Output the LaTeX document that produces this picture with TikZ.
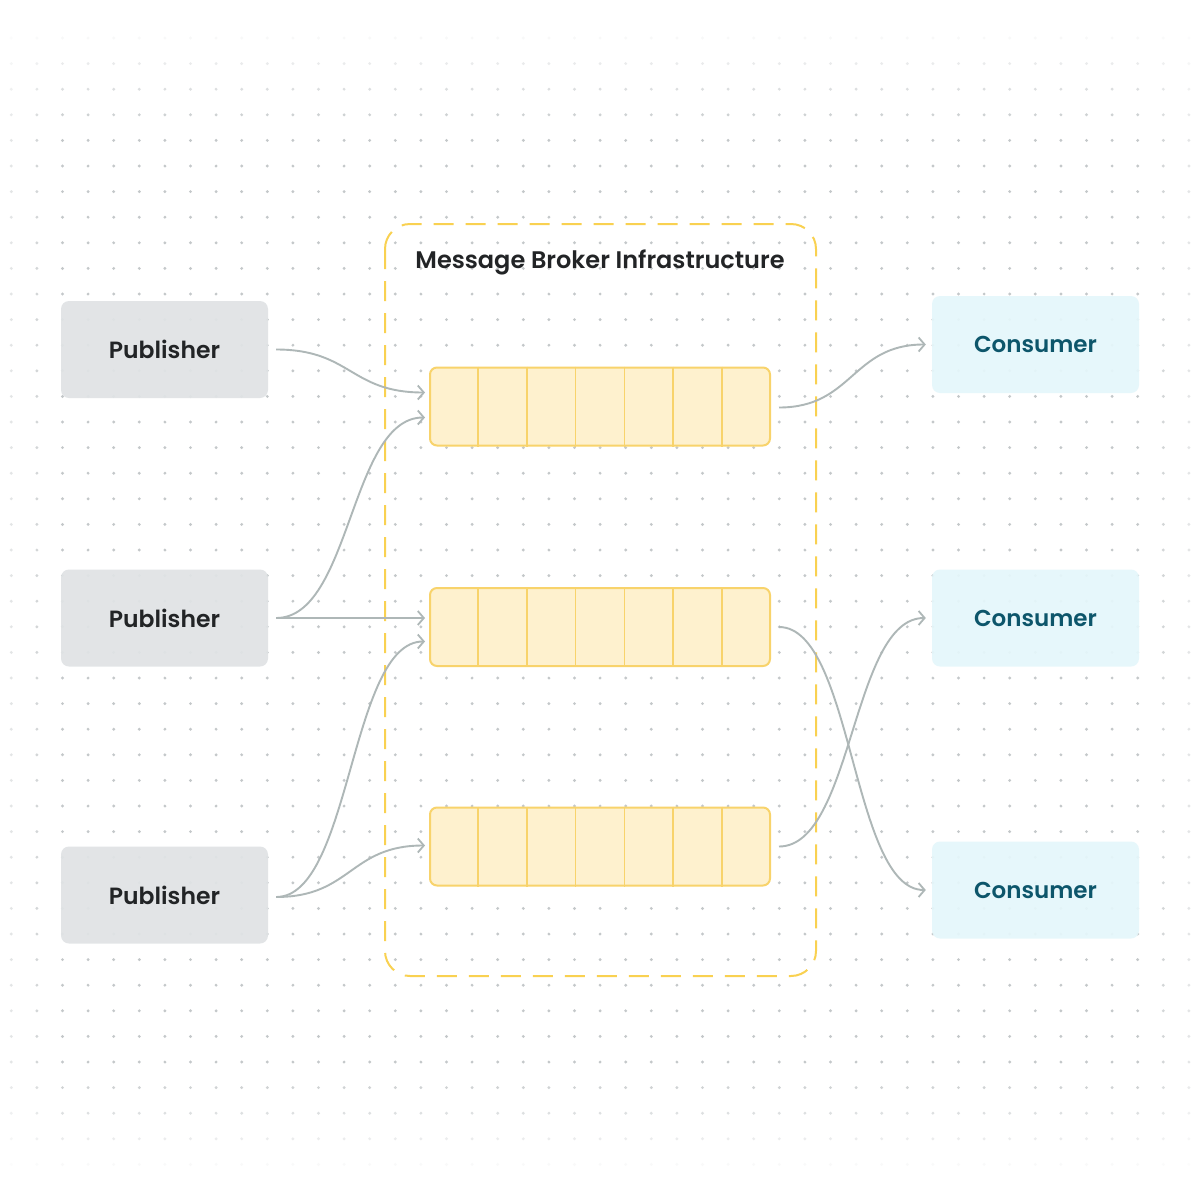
\documentclass[tikz,border=0pt]{standalone}
\usepackage{fontspec}
\setmainfont{Poppins}
\newfontfamily\popm{Poppins SemiBold}
\usetikzlibrary{arrows.meta,calc}
\definecolor{dotc}{HTML}{C4C8CA}
\definecolor{pubfill}{HTML}{E0E3E5}
\definecolor{pubtext}{HTML}{222426}
\definecolor{confill}{HTML}{E5F7FB}
\definecolor{context}{HTML}{0D566B}
\definecolor{qfill}{HTML}{FEF1CE}
\definecolor{qdraw}{HTML}{F8D36B}
\definecolor{boxdash}{HTML}{F9D151}
\definecolor{arrc}{HTML}{AEB7B7}
\definecolor{titlec}{HTML}{222426}
\tikzset{
  pub/.style={rounded corners=8pt, fill=pubfill, minimum width=207pt, minimum height=97pt, inner sep=0pt, text=pubtext, font=\popm\fontsize{23.5pt}{26pt}\selectfont},
  con/.style={rounded corners=8pt, fill=confill, minimum width=207pt, minimum height=97pt, inner sep=0pt, text=context, font=\popm\fontsize{23pt}{26pt}\selectfont},
  queue/.style={rounded corners=7pt, fill=qfill, draw=qdraw, line width=2pt, minimum width=340pt, minimum height=78pt, inner sep=0pt},
  cell/.style={draw=qdraw, line width=1.6pt},
  broker/.style={draw=boxdash, line width=2pt, dash pattern=on 20pt off 12pt, rounded corners=25pt},
  conn/.style={draw=arrc, line width=1.9pt, -{Straight Barb[length=6pt,width=14pt,line width=1.8pt]}},
}
\begin{document}
\begin{tikzpicture}[x=1pt,y=-1pt]
\useasboundingbox (0,0) rectangle (1200,1200);
\fill[white] (0,0) rectangle (1200,1200);
% dot grid with fading edges
\foreach \i in {0,...,46}{
  \foreach \j in {0,...,45}{
    \pgfmathsetmacro\xx{11.3+25.6*\i}
    \pgfmathsetmacro\yy{38+25.6*\j}
    \pgfmathsetmacro\ox{min(1,max(0,(min(\xx,1200-\xx)+30)/90))}
    \pgfmathsetmacro\oy{min(1,max(0,(min(\yy,1200-\yy)-25)/110))}
    \pgfmathsetmacro\oo{\ox*\oy}
    \fill[dotc, opacity=\oo] (\xx,\yy) circle (1.6pt);
  }
}
% broker container
\draw[broker] (385,224) rectangle (816,976);
\node[font=\popm\fontsize{24pt}{27pt}\selectfont, text=titlec] (title) at (600,262) {Message Broker Infrastructure};
% publishers
\node[pub, fill opacity=0.93, text opacity=1] (p1) at (164.5,349.5) {Publisher};
\node[pub, fill opacity=0.93, text opacity=1] (p2) at (164.5,618) {Publisher};
\node[pub, fill opacity=0.93, text opacity=1] (p3) at (164.5,895) {Publisher};
% consumers
\node[con, fill opacity=0.93, text opacity=1] (c1) at (1035.5,344.5) {Consumer};
\node[con, fill opacity=0.93, text opacity=1] (c2) at (1035.5,618) {Consumer};
\node[con, fill opacity=0.93, text opacity=1] (c3) at (1035.5,890) {Consumer};
% queues
\foreach \q/\y in {q1/406.5, q2/627, q3/846.5}{
  \node[queue] (\q) at (600,\y) {};
  \foreach \k in {1,...,6}{
    \draw[cell] ($(\q.north west)!\k/7!(\q.north east)$) -- ($(\q.south west)!\k/7!(\q.south east)$);
  }
}
% connectors
\draw[conn] ([xshift=8pt]p1.east) .. controls +(75,0) and +(-75,0) .. ([xshift=-4pt,yshift=14pt]q1.west);
\draw[conn] ([xshift=8pt]p2.east) .. controls +(75,0) and +(-75,0) .. ([xshift=-4pt,yshift=-11pt]q1.west);
\draw[conn] ([xshift=8pt]p2.east) -- ([xshift=-4pt]q2.west |- p2.east);
\draw[conn] ([xshift=8pt,yshift=-2pt]p3.east) .. controls +(75,0) and +(-75,0) .. ([xshift=-4pt,yshift=-14.5pt]q2.west);
\draw[conn] ([xshift=8pt,yshift=-2pt]p3.east) .. controls +(75,0) and +(-75,0) .. ([xshift=-4pt,yshift=1pt]q3.west);
\draw[conn] ([xshift=8pt,yshift=-1pt]q1.east) .. controls +(74,0) and +(-74,0) .. ([xshift=-6pt]c1.west);
\draw[conn] ([xshift=8pt]q2.east) .. controls +(74,0) and +(-74,0) .. ([xshift=-6pt]c3.west);
\draw[conn] ([xshift=8pt]q3.east) .. controls +(74,0) and +(-74,0) .. ([xshift=-6pt]c2.west);
\end{tikzpicture}
\end{document}
